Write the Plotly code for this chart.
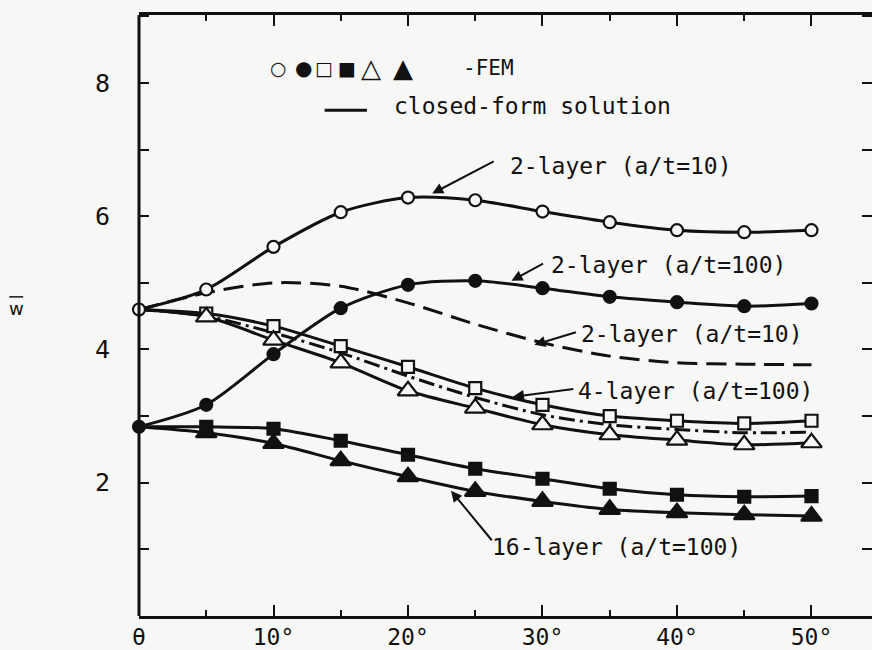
import plotly.graph_objects as go

theta = [0, 5, 10, 15, 20, 25, 30, 35, 40, 45, 50]
w_2l_10_fem = [4.60, 4.90, 5.54, 6.06, 6.28, 6.24, 6.07, 5.91, 5.79, 5.76, 5.79]
w_2l_100_fem = [2.84, 3.17, 3.93, 4.62, 4.97, 5.03, 4.92, 4.79, 4.71, 4.65, 4.69]
w_2l_10_dash = [4.60, 4.85, 5.00, 4.95, 4.70, 4.38, 4.10, 3.90, 3.80, 3.78, 3.77]
w_4l_sq = [4.60, 4.54, 4.35, 4.05, 3.74, 3.42, 3.17, 3.00, 2.93, 2.89, 2.93]
w_4l_dashdot = [4.60, 4.50, 4.25, 3.95, 3.60, 3.28, 3.02, 2.87, 2.80, 2.75, 2.76]
w_4l_tri = [4.60, 4.49, 4.14, 3.80, 3.38, 3.12, 2.87, 2.72, 2.64, 2.57, 2.60]
w_16l_sq = [2.84, 2.84, 2.81, 2.63, 2.42, 2.21, 2.06, 1.91, 1.82, 1.79, 1.80]
w_16l_tri = [2.84, 2.75, 2.59, 2.33, 2.09, 1.87, 1.72, 1.60, 1.55, 1.52, 1.50]

x_tickvals = [0, 10, 20, 30, 40, 50]
x_ticktext = ["θ", "10°", "20°", "30°", "40°", "50°"]
y_tickvals = [1, 2, 3, 4, 5, 6, 7, 8, 9]
y_ticktext = ["", "2", "", "4", "", "6", "", "8", ""]

legend_symbols = ["○", "●", "□", "■", "△", "▲"]
legend_symbol_x = [10.35, 12.2, 13.75, 15.45, 17.25, 19.65]
legend_symbol_size = [19, 20, 19, 19, 26, 26]

FONT = "DejaVu Sans Mono"
BG = "#f7f7f5"
INK = "#111111"

fig = go.Figure()

def add(y, symbol, size, fill, dash="solid", hide_first=True):
    sizes = [size] * len(theta)
    if hide_first:
        sizes[0] = 0
    fig.add_trace(go.Scatter(
        x=theta, y=y, mode="lines+markers" if symbol else "lines",
        line=dict(color=INK, width=3, dash=dash, shape="spline", smoothing=0.8),
        marker=dict(symbol=symbol or "circle", size=sizes, color=fill, opacity=1,
                    line=dict(color=INK, width=2.2)),
        opacity=1, showlegend=False, cliponaxis=False))

add(w_2l_10_dash, None, 0, INK, dash="20px,9px")
add(w_4l_dashdot, None, 0, INK, dash="16px,5px,3px,5px")
add(w_4l_sq, "square", 12, BG)
add(w_4l_tri, "triangle-up", 18, BG)
add(w_16l_sq, "square", 12, INK)
add(w_16l_tri, "triangle-up", 18, INK)
add(w_2l_10_fem, "circle", 12, BG, hide_first=False)
add(w_2l_100_fem, "circle", 12, INK, hide_first=False)

texts = [
    (27.4, 6.76, "2-layer (a/t=10)", 23),
    (30.5, 5.27, "2-layer (a/t=100)", 23),
    (32.7, 4.23, "2-layer (a/t=10)", 23),
    (32.5, 3.37, "4-layer (a/t=100)", 23),
    (26.1, 1.04, "16-layer (a/t=100)", 23),
    (18.8, 7.66, "closed-form solution", 23),
    (23.95, 8.23, "-FEM", 21),
]
for x, y, t, fs in texts:
    fig.add_annotation(x=x, y=y, text=t, showarrow=False, xanchor="left",
                       yanchor="middle", font=dict(family=FONT, size=fs, color=INK))

for s, x, sz in zip(legend_symbols, legend_symbol_x, legend_symbol_size):
    fig.add_annotation(x=x, y=8.23, text=s, showarrow=False, xanchor="center",
                       yanchor="middle", font=dict(family="DejaVu Sans", size=sz, color=INK))

arrows = [
    (21.8, 6.34, 63, -33),
    (27.7, 5.03, 33, -18),
    (29.4, 4.07, 43, -13),
    (27.8, 3.29, 62, -8),
    (23.2, 1.88, 42, 51),
]
for x, y, ax, ay in arrows:
    fig.add_annotation(x=x, y=y, ax=ax, ay=ay, text="", showarrow=True,
                       arrowhead=2, arrowsize=1.1, arrowwidth=2, arrowcolor=INK)

fig.add_shape(type="line", x0=13.8, x1=16.95, y0=7.59, y1=7.59,
              line=dict(color=INK, width=3))
# left frame line (right one lies outside the picture)
fig.add_shape(type="line", xref="paper", yref="paper", x0=0, x1=0, y0=0, y1=1,
              line=dict(color=INK, width=3))

# y-axis title: w with an overbar
fig.add_annotation(xref="paper", x=-0.167, y=4.62, text="w", showarrow=False,
                   xanchor="center", yanchor="middle",
                   font=dict(family="DejaVu Sans", size=18, color=INK))
fig.add_shape(type="line", xref="paper", yref="paper", x0=-0.177, x1=-0.158,
              y0=0.531, y1=0.531, line=dict(color=INK, width=1.5))

fig.update_xaxes(range=[0, 54.5], tickvals=x_tickvals, ticktext=x_ticktext,
                 ticks="inside", ticklen=11, tickwidth=2, tickcolor=INK,
                 minor=dict(dtick=5, tick0=0, ticks="inside", ticklen=6, tickwidth=2, tickcolor=INK),
                 showline=True, linewidth=3, linecolor=INK, mirror="allticks",
                 showgrid=False, zeroline=False, automargin=False,
                 tickfont=dict(family=FONT, size=23, color=INK), ticklabelstandoff=-2)
fig.update_yaxes(range=[0, 9.02], tickvals=y_tickvals, ticktext=y_ticktext,
                 ticks="inside", ticklen=10, tickwidth=2, tickcolor=INK,
                 showline=False, mirror="allticks",
                 showgrid=False, zeroline=False, automargin=False,
                 tickfont=dict(family=FONT, size=25, color=INK), ticklabelstandoff=28)

fig.update_layout(width=872, height=650, margin=dict(l=139, r=0, t=15, b=34),
                  paper_bgcolor=BG, plot_bgcolor=BG)

fig.write_html("out.html")
